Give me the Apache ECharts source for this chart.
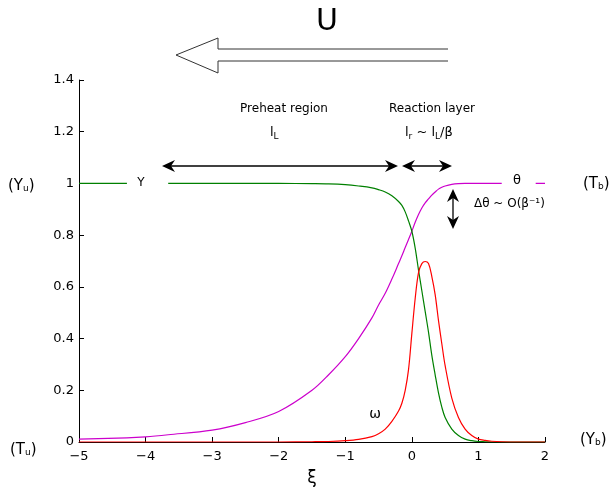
<!DOCTYPE html>
<html><head><meta charset="utf-8">
<script src="https://cdn.jsdelivr.net/npm/echarts@6/dist/echarts.min.js"></script>
<style>html,body{margin:0;padding:0;background:#fff}#c{width:614px;height:492px}</style>
</head><body><div id="c"></div>
<script>
const xi = [-5,-4.28,-4,-3.66,-3,-2.5,-2,-1.5,-1.25,-1,-0.8,-0.6,-0.5,-0.4,-0.3,-0.2,-0.15,-0.1,-0.05,0,0.05,0.1,0.15,0.2,0.25,0.3,0.35,0.4,0.45,0.5,0.6,0.7,0.8,0.9,1,1.1,1.2,1.35,1.6,1.86,2];
const theta = [0.011,0.016,0.020,0.028,0.046,0.075,0.118,0.20,0.26,0.33,0.40,0.48,0.53,0.575,0.63,0.69,0.72,0.752,0.783,0.815,0.85,0.88,0.905,0.925,0.94,0.955,0.967,0.978,0.985,0.99,0.996,0.999,1,1,1,1,1,1,null,1,1];
const Yfuel = [1,1,null,1,1,1,1,0.999,0.998,0.995,0.99,0.983,0.976,0.967,0.952,0.93,0.915,0.89,0.855,0.815,0.75,0.665,0.585,0.505,0.425,0.335,0.26,0.19,0.135,0.095,0.05,0.025,0.011,0.005,0.002,0.001,0,0,0,0,0];
const omega = [0,0,0,0,0,0,0,0.001,0.002,0.005,0.01,0.021,0.032,0.05,0.08,0.12,0.15,0.20,0.28,0.42,0.555,0.655,0.69,0.698,0.69,0.64,0.57,0.47,0.38,0.295,0.17,0.095,0.05,0.025,0.011,0.006,0.003,0.001,0,0,0];
const xTicks = [-5,-4,-3,-2,-1,0,1,2];
const yTicks = [0,0.2,0.4,0.6,0.8,1,1.2,1.4];

const pair = arr => xi.map((x,i)=>[x, arr[i]===null ? '-' : arr[i]]);
const F = 'DejaVu Sans';
const chart = echarts.init(document.getElementById('c'));

function dblArrowH(x1,x2,y){
  return [
    {type:'line',shape:{x1:x1+6,y1:y,x2:x2-6,y2:y},style:{stroke:'#000',lineWidth:1.3}},
    {type:'polygon',shape:{points:[[x1,y],[x1+13,y-6],[x1+9,y],[x1+13,y+6]]},style:{fill:'#000'}},
    {type:'polygon',shape:{points:[[x2,y],[x2-13,y-6],[x2-9,y],[x2-13,y+6]]},style:{fill:'#000'}}
  ];
}
function dblArrowV(x,y1,y2){
  return [
    {type:'line',shape:{x1:x,y1:y1+6,x2:x,y2:y2-6},style:{stroke:'#000',lineWidth:1.3}},
    {type:'polygon',shape:{points:[[x,y1],[x-6,y1+13],[x,y1+9],[x+6,y1+13]]},style:{fill:'#000'}},
    {type:'polygon',shape:{points:[[x,y2],[x-6,y2-13],[x,y2-9],[x+6,y2-13]]},style:{fill:'#000'}}
  ];
}
function txt(x,y,text,size,align,rich){
  const s = {text:text,x:x,y:y,font:size+'px "'+F+'"',fill:'#000',align:align||'center',verticalAlign:'middle'};
  if(rich) s.rich = rich;
  return {type:'text',style:s,z:10};
}
const sub = {s:{fontSize:9,fontFamily:F,fill:'#000',padding:[6,0,0,0]}};
const subL = {s:{fontSize:9,fontFamily:F,fill:'#000',padding:[8,0,0,0]}, m:{fontSize:13,fontFamily:F,fill:'#000'}};

const graphics = [
  {type:'polyline',shape:{points:[[448,49],[218,49],[218,38],[176,55],[218,73],[218,61],[448,61]]},style:{stroke:'#333',lineWidth:1,fill:null}},
  txt(327,22,'U',30,'center'),
  txt(284,109,'Preheat region',12,'center'),
  txt(432,109,'Reaction layer',12,'center'),
  txt(270,133,'{m|l}{s|L}',13,'left',subL),
  txt(405,133,'{m|l}{s|r}{m| ~ l}{s|L}{m|/β}',13,'left',subL),
  ...dblArrowH(162,398,166),
  ...dblArrowH(402,452,166),
  ...dblArrowV(453,189,229),
  txt(474,204,'Δθ ~ O(β⁻¹)',12,'left'),
  txt(141,183,'Y',12,'center'),
  txt(517,181,'θ',13,'center'),
  txt(375,414,'ω',14,'center'),
  txt(8,186,'(Y{s|u})',15,'left',sub),
  txt(10,450,'(T{s|u})',15,'left',sub),
  txt(583,184,'(T{s|b})',15,'left',sub),
  txt(580,440,'(Y{s|b})',15,'left',sub),
];

chart.setOption({
  animation:false,
  backgroundColor:'#fff',
  grid:{left:79,right:69,top:80,bottom:46,containLabel:false},
  xAxis:{type:'value',min:-5,max:2,interval:1,
    name:'ξ',nameLocation:'middle',nameGap:28,nameTextStyle:{fontFamily:F,fontSize:17,color:'#000'},
    axisLine:{onZero:false,lineStyle:{color:'#000',width:1}},
    axisTick:{inside:true,length:5,lineStyle:{color:'#000'}},
    axisLabel:{fontFamily:F,fontSize:13,color:'#000',margin:8,formatter:v=>String(v).replace('-','−')},
    splitLine:{show:false}},
  yAxis:{type:'value',min:0,max:1.4,interval:0.2,
    axisLine:{show:true,onZero:false,lineStyle:{color:'#000',width:1}},
    axisTick:{show:true,inside:true,length:5,lineStyle:{color:'#000'}},
    axisLabel:{fontFamily:F,fontSize:13,color:'#000',margin:5,formatter:v=>String(+v.toFixed(1))},
    splitLine:{show:false}},
  series:[
    {type:'line',data:pair(theta),showSymbol:false,symbol:'none',smooth:0.35,connectNulls:false,lineStyle:{color:'#cc00cc',width:1.2},z:3},
    {type:'line',data:pair(Yfuel),showSymbol:false,symbol:'none',smooth:0.35,connectNulls:false,lineStyle:{color:'#008000',width:1.2},z:4},
    {type:'line',data:pair(omega),showSymbol:false,symbol:'none',smooth:0.35,lineStyle:{color:'#ff0000',width:1.2},z:5}
  ],
  graphic:graphics
});
</script></body></html>
